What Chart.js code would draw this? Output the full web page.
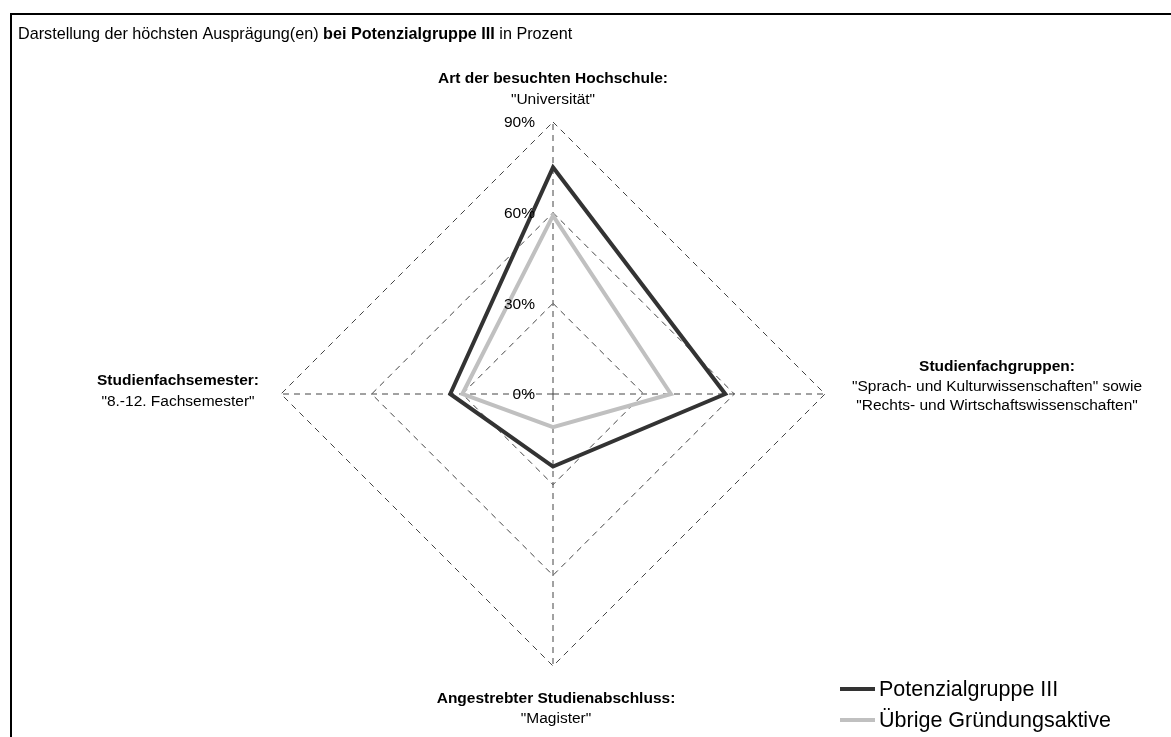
<!DOCTYPE html>
<html>
<head>
<meta charset="utf-8">
<script src="https://cdn.jsdelivr.net/npm/chart.js@4.4.1/dist/chart.umd.min.js"></script>
<style>
  html, body { margin: 0; padding: 0; background: #fff; }
  #wrap { position: relative; width: 1171px; height: 737px; }
  canvas { display: block; }
</style>
</head>
<body>
<div id="wrap"><canvas id="c" width="1171" height="737"></canvas></div>
<script>
// ---- Data ----
const categoryTitles = [
  'Art der besuchten Hochschule:',
  'Studienfachgruppen:',
  'Angestrebter Studienabschluss:',
  'Studienfachsemester:'
];
const categoryValues = [
  ['"Universität"'],
  ['"Sprach- und Kulturwissenschaften" sowie', '"Rechts- und Wirtschaftswissenschaften"'],
  ['"Magister"'],
  ['"8.-12. Fachsemester"']
];
const seriesNames = ['Potenzialgruppe III', 'Übrige Gründungsaktive'];
const potenzialgruppeIII = [75, 57, 24, 34];
const uebrigeGruendungsaktive = [59, 39, 11, 30];
const tickValues = [0, 30, 60, 90];
const tickLabels = ['0%', '30%', '60%', '90%'];
const chartTitleParts = [
  ['Darstellung der höchsten Ausprägung(en) ', false],
  ['bei Potenzialgruppe III', true],
  [' in Prozent', false]
];

const FONT = '"Liberation Sans", Arial, Helvetica, sans-serif';
const seriesColors = ['#333333', '#c0c0c0'];

const overlay = {
  id: 'overlay',
  beforeDraw(chart) {
    const ctx = chart.ctx;
    ctx.save();
    ctx.fillStyle = '#ffffff';
    ctx.fillRect(0, 0, chart.width, chart.height);
    // frame
    ctx.strokeStyle = '#000';
    ctx.lineWidth = 2;
    ctx.beginPath();
    ctx.moveTo(11, chart.height);
    ctx.lineTo(11, 14);
    ctx.lineTo(chart.width, 14);
    ctx.stroke();
    ctx.restore();
  },
  afterDraw(chart) {
    const ctx = chart.ctx;
    const r = chart.scales.r;
    ctx.save();
    ctx.fillStyle = '#000';
    // title
    ctx.textBaseline = 'alphabetic';
    ctx.textAlign = 'left';
    let x = 18;
    chartTitleParts.forEach(([t, b]) => {
      ctx.font = (b ? 'bold ' : '') + '16.2px ' + FONT;
      ctx.fillText(t, x, 39);
      x += ctx.measureText(t).width;
    });
    // tick labels
    ctx.font = '15.5px ' + FONT;
    ctx.textAlign = 'right';
    ctx.textBaseline = 'middle';
    tickValues.forEach((v, i) => {
      const p = r.getPointPositionForValue(0, v);
      ctx.fillText(tickLabels[i], p.x - 18, p.y + 1);
    });
    // point labels
    const offs = [
      {dx: 0, dy: -43, step: 21},
      {dx: 172, dy: -27, step: 19.5},
      {dx: 3, dy: 33, step: 20},
      {dx: -103, dy: -13, step: 21}
    ];
    ctx.textAlign = 'center';
    categoryTitles.forEach((t, i) => {
      const p = r.getPointPositionForValue(i, r.max);
      const o = offs[i];
      const cx = p.x + o.dx;
      let cy = p.y + o.dy;
      ctx.font = 'bold 15.5px ' + FONT;
      ctx.fillText(t, cx, cy);
      ctx.font = '15.5px ' + FONT;
      categoryValues[i].forEach(line => {
        cy += o.step;
        ctx.fillText(line, cx, cy);
      });
    });
    // legend
    ctx.textAlign = 'left';
    ctx.font = '21.5px ' + FONT;
    seriesNames.forEach((n, i) => {
      const y = 689 + i * 31;
      ctx.strokeStyle = seriesColors[i];
      ctx.lineWidth = 4;
      ctx.beginPath();
      ctx.moveTo(840, y);
      ctx.lineTo(875, y);
      ctx.stroke();
      ctx.fillStyle = '#000';
      ctx.fillText(n, 879, y + 1);
    });
    ctx.restore();
  }
};

new Chart(document.getElementById('c'), {
  type: 'radar',
  data: {
    labels: categoryTitles,
    datasets: [
      {label: seriesNames[0], data: potenzialgruppeIII, borderColor: seriesColors[0], borderWidth: 4, fill: false, pointRadius: 0, tension: 0},
      {label: seriesNames[1], data: uebrigeGruendungsaktive, borderColor: seriesColors[1], borderWidth: 4, fill: false, pointRadius: 0, tension: 0}
    ].reverse()
  },
  options: {
    responsive: false,
    animation: false,
    layout: {padding: {left: 281, right: 346, top: 122, bottom: 71}},
    plugins: {legend: {display: false}, tooltip: {enabled: false}},
    elements: {line: {borderJoinStyle: 'miter'}},
    scales: {
      r: {
        min: 0, max: 90,
        ticks: {display: false, stepSize: 30},
        pointLabels: {display: false},
        grid: {color: '#444444', lineWidth: 1, borderDash: [6, 5]},
        border: {dash: [6, 5]},
        angleLines: {color: '#444444', lineWidth: 1, borderDash: [6, 5]}
      }
    }
  },
  plugins: [overlay]
});
</script>
</body>
</html>
